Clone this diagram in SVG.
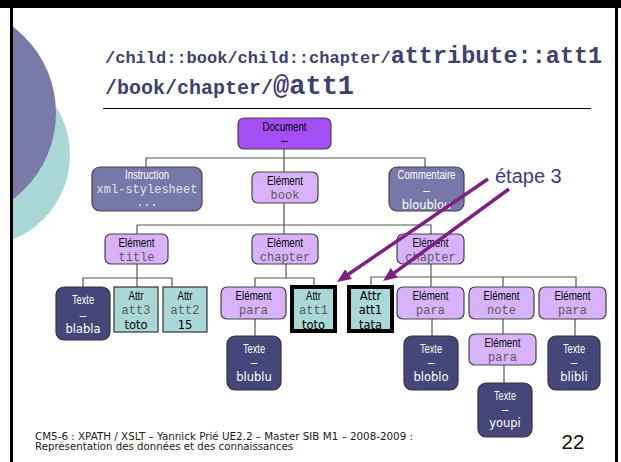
<svg xmlns="http://www.w3.org/2000/svg" width="621" height="462" viewBox="0 0 621 462">
  <style>
    .title { font-family: "Liberation Mono", "Courier New", monospace; font-weight: bold; fill: #404070; }
    .lbl { font-family: "Liberation Sans", Arial, sans-serif; font-size: 12px; text-anchor: middle; }
    .mono { font-family: "Liberation Mono", "Courier New", monospace; font-size: 12px; text-anchor: middle; fill: #5a5a5a; }
    .val { font-family: "DejaVu Sans", Verdana, sans-serif; font-size: 11.5px; text-anchor: middle; }
    .foot { font-family: "DejaVu Sans", Verdana, sans-serif; font-size: 10px; fill: #1a1a1a; }
    .elem { fill: #d8b2fb; stroke: #444; stroke-width: 1.2; }
    .doc { fill: #a44ff6; stroke: #444; stroke-width: 1.2; }
    .misc { fill: #7777aa; stroke: #444; stroke-width: 1.2; }
    .txt { fill: #46467a; stroke: #333; stroke-width: 1.2; }
    .attr { fill: #a9d8d6; stroke: #333; stroke-width: 1.2; }
    .attr-hl { fill: #a9d8d6; stroke: #000; stroke-width: 4; }
    .w { fill: #ffffff; }
    .lw { fill: #e4e4e4; }
    .k { fill: #000000; }
    .conn { fill: none; stroke: #555; stroke-width: 1.2; }
    .ptr { fill: none; stroke: #7d2082; stroke-width: 3.5; }
  </style>
  <defs>
    <marker id="head" markerUnits="userSpaceOnUse" markerWidth="14" markerHeight="12" refX="6" refY="6" orient="auto">
      <path d="M0,0 L14,6 L0,12 z" fill="#7d2082"/>
    </marker>
    <clipPath id="slide">
      <rect x="12" y="8" width="603" height="454"/>
    </clipPath>
  </defs>

  <rect x="0" y="0" width="621" height="462" fill="#ffffff"/>

  <!-- decorative discs on the left edge -->
  <g clip-path="url(#slide)">
    <circle cx="-21" cy="155" r="91" fill="#a9d7d6"/>
    <circle cx="-52" cy="113" r="108" fill="#7a7aa8"/>
  </g>

  <!-- slide frame -->
  <rect x="0" y="0" width="621" height="8" fill="#000"/>
  <rect x="10" y="0" width="3" height="462" fill="#000"/>
  <rect x="615" y="0" width="3" height="462" fill="#000"/>

  <!-- heading -->
  <text class="title" x="105" y="63"><tspan font-size="17px">/child::book/child::chapter/</tspan><tspan font-size="23.5px">attribute::att1</tspan></text>
  <text class="title" x="105" y="94"><tspan font-size="20px">/book/chapter/</tspan><tspan font-size="27px">@att1</tspan></text>
  <line x1="103" y1="108.5" x2="591" y2="108.5" stroke="#000" stroke-width="1"/>

  <!-- tree connectors -->
  <g id="connectors">
    <path class="conn" d="M284,149 V172 M146,167 V158 H425 V167"/>
    <path class="conn" d="M284,203 V225 M137,234 V225 H431 V234 M284,225 V234"/>
    <path class="conn" d="M137,264 V287 M83,287 V278 H172 V287"/>
    <path class="conn" d="M286,264 V278 M255,287 V278 H314 V285"/>
    <path class="conn" d="M431,264 V277 M371,285 V277 H576 V287 M431,277 V287 M503,277 V287"/>
    <path class="conn" d="M255,319 V336 M432,319 V336 M503,319 V334 M504,365 V383 M575,319 V336"/>
  </g>

  <g id="document">
    <rect class="doc" x="238" y="118" width="93" height="31" rx="6"/>
    <text class="lbl k" x="284.5" y="131" textLength="44" lengthAdjust="spacingAndGlyphs">Document</text>
    <text class="lbl k" x="284.5" y="145">–</text>
  </g>

  <g id="instruction">
    <rect class="misc" x="92" y="167" width="110" height="44" rx="8"/>
    <text class="lbl w" x="147" y="179" textLength="44" lengthAdjust="spacingAndGlyphs">Instruction</text>
    <text class="mono lw" x="147" y="193">xml-stylesheet</text>
    <text class="mono lw" x="147" y="206">...</text>
  </g>

  <g id="book">
    <rect class="elem" x="252" y="172" width="66" height="31" rx="6"/>
    <text class="lbl k" x="285" y="184.5" textLength="36" lengthAdjust="spacingAndGlyphs">Elément</text>
    <text class="mono" x="285" y="199">book</text>
  </g>

  <g id="comment">
    <rect class="misc" x="389" y="167" width="75" height="44" rx="8"/>
    <text class="lbl w" x="426.5" y="179" textLength="58" lengthAdjust="spacingAndGlyphs">Commentaire</text>
    <text class="lbl w" x="426.5" y="195">–</text>
    <text class="val w" x="426.5" y="208.5">bloublou</text>
  </g>

  <g id="title">
    <rect class="elem" x="105" y="234" width="63" height="30" rx="6"/>
    <text class="lbl k" x="136.5" y="246.5" textLength="36" lengthAdjust="spacingAndGlyphs">Elément</text>
    <text class="mono" x="136.5" y="261">title</text>
  </g>

  <g id="chapter1">
    <rect class="elem" x="252" y="234" width="66" height="30" rx="6"/>
    <text class="lbl k" x="285" y="246.5" textLength="36" lengthAdjust="spacingAndGlyphs">Elément</text>
    <text class="mono" x="285" y="261">chapter</text>
  </g>

  <g id="chapter2">
    <rect class="elem" x="397" y="234" width="67" height="30" rx="6"/>
    <text class="lbl k" x="430.5" y="246.5" textLength="36" lengthAdjust="spacingAndGlyphs">Elément</text>
    <text class="mono" x="430.5" y="261">chapter</text>
  </g>

  <g id="text-blabla">
    <rect class="txt" x="56" y="287" width="54" height="53" rx="8"/>
    <text class="lbl w" x="83" y="303.5" textLength="22" lengthAdjust="spacingAndGlyphs">Texte</text>
    <text class="lbl w" x="83" y="320">–</text>
    <text class="val w" x="83" y="333">blabla</text>
  </g>

  <g id="attr-att3">
    <rect class="attr" x="114" y="287" width="44" height="45"/>
    <text class="lbl k" x="136" y="299.5" textLength="15" lengthAdjust="spacingAndGlyphs">Attr</text>
    <text class="mono" x="136" y="313.5">att3</text>
    <text class="val k" x="136" y="329">toto</text>
  </g>

  <g id="attr-att2">
    <rect class="attr" x="163" y="287" width="44" height="45"/>
    <text class="lbl k" x="185" y="299.5" textLength="15" lengthAdjust="spacingAndGlyphs">Attr</text>
    <text class="mono" x="185" y="313.5">att2</text>
    <text class="val k" x="185" y="329">15</text>
  </g>

  <g id="para1">
    <rect class="elem" x="221" y="287" width="65" height="32" rx="6"/>
    <text class="lbl k" x="253.5" y="300" textLength="36" lengthAdjust="spacingAndGlyphs">Elément</text>
    <text class="mono" x="253.5" y="314">para</text>
  </g>

  <g id="attr-att1-toto">
    <rect class="attr-hl" x="292" y="287" width="43" height="44"/>
    <text class="lbl k" x="313.5" y="300" textLength="15" lengthAdjust="spacingAndGlyphs">Attr</text>
    <text class="mono" x="313.5" y="313.5">att1</text>
    <text class="val k" x="313.5" y="328.5">toto</text>
  </g>

  <g id="attr-att1-tata">
    <rect class="attr-hl" x="349" y="287" width="43" height="44"/>
    <text class="val k" x="370.5" y="300" font-size="12px">Attr</text>
    <text class="val k" x="370.5" y="314" font-size="12px">att1</text>
    <text class="val k" x="370.5" y="328.5" font-size="12px">tata</text>
  </g>

  <g id="para2">
    <rect class="elem" x="397" y="287" width="67" height="32" rx="6"/>
    <text class="lbl k" x="430.5" y="300" textLength="36" lengthAdjust="spacingAndGlyphs">Elément</text>
    <text class="mono" x="430.5" y="314">para</text>
  </g>

  <g id="note">
    <rect class="elem" x="469" y="287" width="65" height="32" rx="6"/>
    <text class="lbl k" x="501.5" y="300" textLength="36" lengthAdjust="spacingAndGlyphs">Elément</text>
    <text class="mono" x="501.5" y="314">note</text>
  </g>

  <g id="para3">
    <rect class="elem" x="539" y="287" width="67" height="32" rx="6"/>
    <text class="lbl k" x="572.5" y="300" textLength="36" lengthAdjust="spacingAndGlyphs">Elément</text>
    <text class="mono" x="572.5" y="314">para</text>
  </g>

  <g id="text-blublu">
    <rect class="txt" x="227" y="336" width="54" height="54" rx="8"/>
    <text class="lbl w" x="254" y="352.5" textLength="22" lengthAdjust="spacingAndGlyphs">Texte</text>
    <text class="lbl w" x="254" y="367">–</text>
    <text class="val w" x="254" y="381">blublu</text>
  </g>

  <g id="text-bloblo">
    <rect class="txt" x="404" y="336" width="54" height="54" rx="8"/>
    <text class="lbl w" x="431" y="352.5" textLength="22" lengthAdjust="spacingAndGlyphs">Texte</text>
    <text class="lbl w" x="431" y="367">–</text>
    <text class="val w" x="431" y="381">bloblo</text>
  </g>

  <g id="para-note">
    <rect class="elem" x="469" y="334" width="67" height="31" rx="6"/>
    <text class="lbl k" x="502.5" y="347" textLength="36" lengthAdjust="spacingAndGlyphs">Elément</text>
    <text class="mono" x="502.5" y="361">para</text>
  </g>

  <g id="text-blibli">
    <rect class="txt" x="548" y="336" width="52" height="54" rx="8"/>
    <text class="lbl w" x="574" y="352.5" textLength="22" lengthAdjust="spacingAndGlyphs">Texte</text>
    <text class="lbl w" x="574" y="367">–</text>
    <text class="val w" x="574" y="381">blibli</text>
  </g>

  <g id="text-youpi">
    <rect class="txt" x="478" y="383" width="54" height="54" rx="8"/>
    <text class="lbl w" x="505" y="400" textLength="22" lengthAdjust="spacingAndGlyphs">Texte</text>
    <text class="lbl w" x="505" y="414">–</text>
    <text class="val w" x="505" y="427">youpi</text>
  </g>

  <!-- step annotation -->
  <g id="step3">
    <text x="495" y="183" font-family="'Liberation Sans', Arial, sans-serif" font-size="20px" fill="#3c3c80">étape 3</text>
    <line class="ptr" x1="488" y1="179" x2="343.6" y2="277.5" marker-end="url(#head)"/>
    <line class="ptr" x1="509" y1="189" x2="389.5" y2="276.3" marker-end="url(#head)"/>
  </g>

  <!-- footer -->
  <text class="foot" x="35" y="439.5" textLength="378" lengthAdjust="spacingAndGlyphs">CM5-6 : XPATH / XSLT – Yannick Prié UE2.2 – Master SIB M1 – 2008-2009 :</text>
  <text class="foot" x="35" y="449.5" textLength="258" lengthAdjust="spacingAndGlyphs">Représentation des données et des connaissances</text>
  <text x="561.5" y="448.5" font-family="'Liberation Sans', Arial, sans-serif" font-size="20.5px" fill="#111">22</text>
</svg>
